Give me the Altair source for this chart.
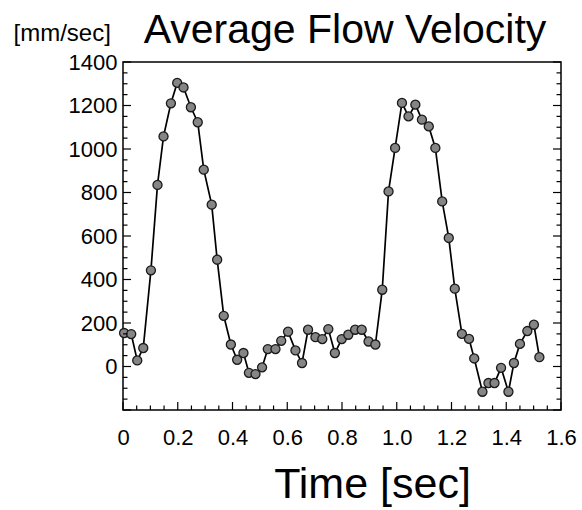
import altair as alt
import pandas as pd

time_s = [0.004, 0.030, 0.052, 0.074, 0.102, 0.126, 0.148, 0.175, 0.198, 0.221,
          0.248, 0.273, 0.295, 0.324, 0.344, 0.368, 0.394, 0.417, 0.440, 0.460,
          0.484, 0.508, 0.529, 0.557, 0.578, 0.603, 0.630, 0.654, 0.676, 0.703,
          0.728, 0.750, 0.774, 0.799, 0.823, 0.848, 0.872, 0.897, 0.922, 0.947,
          0.970, 0.994, 1.019, 1.043, 1.068, 1.092, 1.117, 1.141, 1.166, 1.190,
          1.212, 1.238, 1.264, 1.283, 1.313, 1.335, 1.357, 1.381, 1.408, 1.428,
          1.450, 1.477, 1.501, 1.521]
velocity = [154, 149, 28, 85, 442, 835, 1058, 1210, 1304, 1283,
            1192, 1123, 905, 744, 491, 233, 101, 31, 62, -29,
            -35, -4, 80, 80, 118, 160, 74, 16, 169, 135,
            126, 172, 62, 126, 146, 169, 169, 115, 101, 353,
            805, 1005, 1212, 1150, 1204, 1135, 1104, 1005, 759, 591,
            358, 150, 127, 37, -116, -76, -76, -6, -116, 16,
            104, 163, 192, 43]

title_text = "Average Flow Velocity"
x_title = "Time [sec]"
y_title = "[mm/sec]"
x_labels = [0, 0.2, 0.4, 0.6, 0.8, 1.0, 1.2, 1.4, 1.6]
y_labels = [0, 200, 400, 600, 800, 1000, 1200, 1400]
x_minor = [round(i * 0.05, 2) for i in range(33) if i % 4 != 0]
y_minor = [-200 + i * 50 for i in range(33) if i % 4 != 0]
y_major_all = [-200] + y_labels

W, H = 438, 348
FONT = "Liberation Sans"
MAJOR, MINOR = 8, 4.5

df = pd.DataFrame({"t": time_s, "v": velocity})
xs = alt.Scale(domain=[0, 1.6], nice=False, zero=False)
ys = alt.Scale(domain=[-200, 1400], nice=False, zero=False)

x_axis = alt.Axis(values=x_labels, ticks=False, domain=False, grid=False,
                  labelFlush=False, labelOverlap=False,
                  labelExpr="datum.value == 0 ? '0' : format(datum.value, '.1f')",
                  labelFontSize=22, labelFont=FONT, labelColor="black", labelPadding=17,
                  title=x_title, titleFontSize=43, titleFont=FONT, titleFontWeight="normal",
                  titleColor="black", titleX=249, titleY=87, titleAlign="center",
                  titleBaseline="alphabetic")
y_axis = alt.Axis(values=y_labels, ticks=False, domain=False, grid=False, format="d",
                  labelFlush=False, labelOverlap=False,
                  labelFontSize=22, labelFont=FONT, labelColor="black", labelPadding=6,
                  title=y_title, titleAngle=0, titleX=-110, titleY=-22,
                  titleAlign="left", titleBaseline="alphabetic",
                  titleFontSize=24, titleFont=FONT, titleFontWeight="normal",
                  titleColor="black")

X = alt.X("t:Q", scale=xs, axis=x_axis)
Y = alt.Y("v:Q", scale=ys, axis=y_axis)

line = alt.Chart(df).mark_line(color="black", strokeWidth=1.7).encode(x=X, y=Y)
pts = alt.Chart(df).mark_point(filled=True, size=82, fill="#858585",
                               stroke="#1a1a1a", strokeWidth=1.3, opacity=1).encode(x=X, y=Y)

def vticks(vals, length, side):
    d = pd.DataFrame({"v": vals})
    if side == "left":
        xv, x2v = 0, length
    else:
        xv, x2v = W, W - length
    return alt.Chart(d).mark_rule(color="black", strokeWidth=1.2).encode(
        y=Y, x=alt.value(xv), x2=alt.value(x2v))

def hticks(vals, length):
    d = pd.DataFrame({"t": vals})
    return alt.Chart(d).mark_rule(color="black", strokeWidth=1.2).encode(
        x=X, y=alt.value(H), y2=alt.value(H - length))

title_layer = alt.Chart(pd.DataFrame({"s": [title_text]})).mark_text(
    font=FONT, fontSize=41, color="black", align="center", baseline="alphabetic"
).encode(text="s:N", x=alt.value(222), y=alt.value(-19))

chart = alt.layer(
    line, pts,
    vticks(y_major_all, MAJOR, "left"), vticks(y_minor, MINOR, "left"),
    vticks(y_major_all, MAJOR, "right"), vticks(y_minor, MINOR, "right"),
    hticks(x_labels, MAJOR), hticks(x_minor, MINOR),
    title_layer,
).properties(
    width=W, height=H,
    autosize=alt.AutoSizeParams(type="none"),
    padding={"left": 123, "top": 62, "right": 21, "bottom": 100},
    background="white",
).configure_view(stroke="black", strokeWidth=1.5)

chart.save("out.html", embed_options={"renderer": "svg", "actions": False})
